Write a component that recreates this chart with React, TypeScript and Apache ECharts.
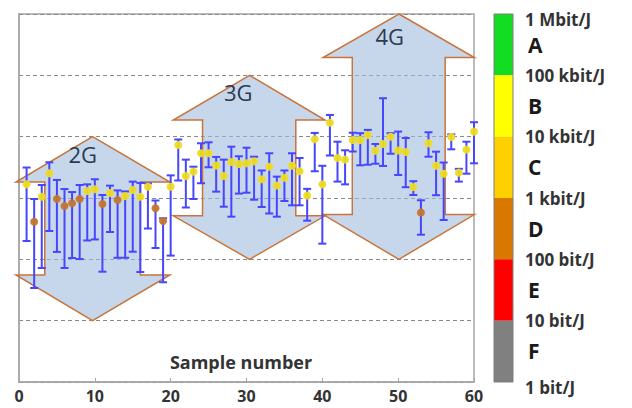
import React, { useEffect, useRef } from 'react';
import * as echarts from 'echarts';

// ---- Data ----
const sampleIndex = [
  1, 2, 3, 4, 5, 6, 7, 8, 9, 10, 11, 12, 13, 14, 15, 16, 17, 18, 19, 20,
  21, 22, 23, 24, 25, 26, 27, 28, 29, 30, 31, 32, 33, 34, 35, 36, 37, 38, 39, 40,
  41, 42, 43, 44, 45, 46, 47, 48, 49, 50, 51, 52, 53, 54, 55, 56, 57, 58, 59, 60,
];
// energy efficiency, bit/J
const meanValues = [
  1670, 411, 1050, 2530, 963, 741, 820, 963, 1300, 1390, 798, 1210, 929, 1080, 1350, 1050, 1530, 679, 422, 1530,
  7310, 2290, 2690, 5360, 5360, 3390, 2290, 3860, 3580, 3680, 3960, 2020, 3240, 1600, 2140, 3350, 2730, 1100, 9060, 1670,
  16900, 4490, 4220, 8830, 8830, 10600, 5890, 7600, 10000, 5960, 5620, 1510, 580, 7800, 3350, 2490, 9890, 2590, 6140, 12100,
];
const highValues = [
  3140, 963, 1630, 3820, 1970, 1400, 1250, 1630, 1670, 2020, 1120, 1590, 1330, 1280, 1850, 1760, 1730, 910, 467, 2340,
  9000, 4220, 3240, 7800, 8090, 4670, 4220, 6870, 4790, 6610, 4710, 2810, 5360, 2230, 2810, 5360, 4490, 1410, 11500, 3350,
  22600, 8280, 6000, 11600, 11400, 12900, 7600, 42300, 11400, 12100, 9510, 1880, 918, 11800, 5690, 3790, 10900, 2990, 8280, 17200,
];
const lowValues = [
  199, 34.1, 72.3, 290, 132, 72.3, 105, 101, 203, 211, 62.9, 279, 106, 106, 133, 62.2, 318, 153, 42.3, 115,
  1930, 700, 963, 1740, 3170, 1270, 721, 496, 1180, 1220, 938, 713, 559, 496, 894, 760, 760, 427, 2730, 180,
  4930, 1850, 1670, 5730, 3410, 3490, 3620, 3330, 5270, 2370, 1500, 1120, 252, 4710, 1110, 438, 6220, 1850, 2490, 3680,
];

// Generation arrows (data coordinates: sample number, bit/J)
const arrowLabels = ['2G', '3G', '4G'];
const arrowCenterX = [9.7, 30.4, 50.1];
const arrowLeftX = [-0.4, 20.35, 40.1];
const arrowRightX = [19.9, 40.35, 60.05];
const arrowShaftLeftX = [3.4, 24.2, 43.95];
const arrowShaftRightX = [16.0, 36.5, 56.2];
const arrowTop = [1e4, 1e5, 1e6];
const arrowHeadTop = [1820, 18620, 195000];
const arrowHeadBottom = [55.6, 513, 537];
const arrowBottom = [10, 100, 100];
const arrowLabelX = [8.4, 28.9, 48.9];
const arrowLabelY = [5220, 52500, 436000];

// Efficiency classes colour bar
const classNames = ['A', 'B', 'C', 'D', 'E', 'F'];
const classHigh = [1e6, 1e5, 1e4, 1e3, 100, 10];
const classLow = [1e5, 1e4, 1e3, 100, 10, 1];
const classColors = ['#12dd22', '#ffff00', '#ffd000', '#d97800', '#ff0000', '#808080'];
const classTickLabels = ['1 bit/J', '10 bit/J', '100 bit/J', '1 kbit/J', '10 kbit/J', '100 kbit/J', '1 Mbit/J'];

const xTicks = { min: 0, max: 60, interval: 10 };
const FONT = "'Open Sans', 'DejaVu Sans', sans-serif";

export default function App() {
  const ref = useRef<HTMLDivElement>(null);

  useEffect(() => {
    if (!ref.current) return;
    const chart = echarts.init(ref.current, undefined, { renderer: 'svg' });

    const arrowData = arrowLabels.map((_, i) => [
      arrowCenterX[i], arrowTop[i], arrowHeadTop[i], arrowHeadBottom[i], arrowBottom[i],
      arrowLeftX[i], arrowRightX[i], arrowShaftLeftX[i], arrowShaftRightX[i],
      arrowLabelX[i], arrowLabelY[i],
    ]);

    const option: any = {
      animation: false,
      grid: [
        { left: 19, top: 14, width: 455, height: 368, show: true, borderColor: '#a6a6a6', borderWidth: 1.5, backgroundColor: 'transparent' },
        { left: 494, top: 14, width: 19, height: 368 },
      ],
      xAxis: [
        {
          gridIndex: 0, type: 'value', min: xTicks.min, max: xTicks.max, interval: xTicks.interval,
          axisLine: { lineStyle: { color: '#a6a6a6', width: 1.5 } },
          axisTick: { inside: true, length: 4, lineStyle: { color: '#a6a6a6' } },
          axisLabel: { margin: 6, fontSize: 16, fontWeight: 'bold', color: '#333', fontFamily: FONT },
          splitLine: { show: false },
        },
        { gridIndex: 1, type: 'value', min: 0, max: 1, show: false },
      ],
      yAxis: [
        {
          gridIndex: 0, type: 'log', logBase: 10, min: 1, max: 1e6, splitNumber: 6,
          axisLabel: { show: false }, axisTick: { show: false },
          axisLine: { show: true, lineStyle: { color: '#a6a6a6', width: 1.5 } },
          splitLine: { show: true, lineStyle: { color: '#8a8a8a', type: [4, 3], width: 1 } },
        },
        {
          gridIndex: 1, type: 'log', logBase: 10, min: 1, max: 1e6, splitNumber: 6, position: 'right',
          axisLine: { show: false }, axisTick: { show: false }, splitLine: { show: false },
          axisLabel: {
            margin: 12,
            formatter: (v: number) => {
              const i = Math.round(Math.log10(v));
              const t = classTickLabels[i] ?? '';
              return i === 0 || i === 6 ? `{edge|${t}}` : `{mid|${t}}`;
            },
            rich: {
              edge: { fontSize: 17, fontWeight: 'bold', color: '#333', fontFamily: FONT, padding: [10, 0, 0, 0] },
              mid: { fontSize: 17, fontWeight: 'bold', color: '#333', fontFamily: FONT },
            },
          },
        },
      ],
      graphic: [
        {
          type: 'text', x: 241, y: 362, z: 10,
          style: {
            text: 'Sample number', align: 'center', verticalAlign: 'middle', textAlign: 'center', textVerticalAlign: 'middle',
            fontSize: 18, fontWeight: 'bold', fontFamily: FONT, fill: '#333',
          },
        },
      ],
      series: [
        {
          type: 'custom', name: 'generations', xAxisIndex: 0, yAxisIndex: 0,
          data: arrowData, encode: { x: 0, y: 1 }, clip: false,
          renderItem: (params: any, api: any) => {
            const c = api.value(0), top = api.value(1), hT = api.value(2), hB = api.value(3), bot = api.value(4);
            const L = api.value(5), R = api.value(6), sL = api.value(7), sR = api.value(8);
            const pts = [
              [c, top], [R, hT], [sR, hT], [sR, hB], [R, hB], [c, bot], [L, hB], [sL, hB], [sL, hT], [L, hT],
            ].map((p) => api.coord(p));
            const lp = api.coord([api.value(9), api.value(10)]);
            return {
              type: 'group',
              children: [
                { type: 'polygon', shape: { points: pts }, style: { fill: 'rgba(160,188,222,0.6)', stroke: '#c8743c', lineWidth: 1.5 } },
                {
                  type: 'text', x: lp[0], y: lp[1],
                  style: {
                    text: arrowLabels[params.dataIndex], align: 'center', verticalAlign: 'middle',
                    fontSize: 22, fontFamily: FONT, fill: '#2d3a4f',
                  },
                },
              ],
            };
          },
        },
        {
          type: 'scatter', name: 'mean', xAxisIndex: 0, yAxisIndex: 0,
          data: sampleIndex.map((x, i) => [x, meanValues[i]]),
          symbol: 'circle', symbolSize: 8,
          itemStyle: {
            opacity: 0.95,
            color: (p: any) => (p.value[1] >= 1000 ? '#eedb22' : '#c4752e'),
          },
        },
        {
          type: 'custom', name: 'range', xAxisIndex: 0, yAxisIndex: 0,
          data: sampleIndex.map((x, i) => [x, lowValues[i], highValues[i]]),
          encode: { x: 0, y: [1, 2] },
          renderItem: (params: any, api: any) => {
            const x = api.value(0);
            const pLo = api.coord([x, api.value(1)]);
            const pHi = api.coord([x, api.value(2)]);
            const hw = 4;
            const st = { stroke: '#4646ff', lineWidth: 2 };
            return {
              type: 'group',
              children: [
                { type: 'line', shape: { x1: pLo[0], y1: pLo[1], x2: pHi[0], y2: pHi[1] }, style: st },
                { type: 'line', shape: { x1: pLo[0] - hw, y1: pLo[1], x2: pLo[0] + hw, y2: pLo[1] }, style: st },
                { type: 'line', shape: { x1: pHi[0] - hw, y1: pHi[1], x2: pHi[0] + hw, y2: pHi[1] }, style: st },
              ],
            };
          },
        },
        {
          type: 'custom', name: 'classes', xAxisIndex: 1, yAxisIndex: 1, clip: false,
          data: classNames.map((_, i) => [0, classLow[i], classHigh[i]]),
          encode: { x: 0, y: [1, 2] },
          renderItem: (params: any, api: any) => {
            const cs = params.coordSys;
            const pLo = api.coord([0, api.value(1)]);
            const pHi = api.coord([0, api.value(2)]);
            return {
              type: 'group',
              children: [
                { type: 'rect', shape: { x: cs.x, y: pHi[1], width: cs.width, height: pLo[1] - pHi[1] }, style: { fill: classColors[params.dataIndex] } },
                {
                  type: 'text', x: cs.x + cs.width + 15, y: (pLo[1] + pHi[1]) / 2,
                  style: {
                    text: classNames[params.dataIndex], align: 'left', verticalAlign: 'middle',
                    fontSize: 21, fontWeight: 'bold', fontFamily: FONT, fill: '#1a1a1a',
                  },
                },
              ],
            };
          },
        },
        {
          type: 'custom', name: 'classesBorder', xAxisIndex: 1, yAxisIndex: 1, clip: false,
          data: [[0, 1, 1e6]], encode: { x: 0, y: [1, 2] },
          renderItem: (params: any, api: any) => {
            const cs = params.coordSys;
            return {
              type: 'rect', shape: { x: cs.x, y: cs.y, width: cs.width, height: cs.height },
              style: { fill: 'none', stroke: '#7f7f7f', lineWidth: 1 },
            };
          },
        },
      ],
    };

    chart.setOption(option);
    return () => chart.dispose();
  }, []);

  return <div ref={ref} style={{ position: 'absolute', left: 0, top: 0, width: 632, height: 408 }} />;
}
